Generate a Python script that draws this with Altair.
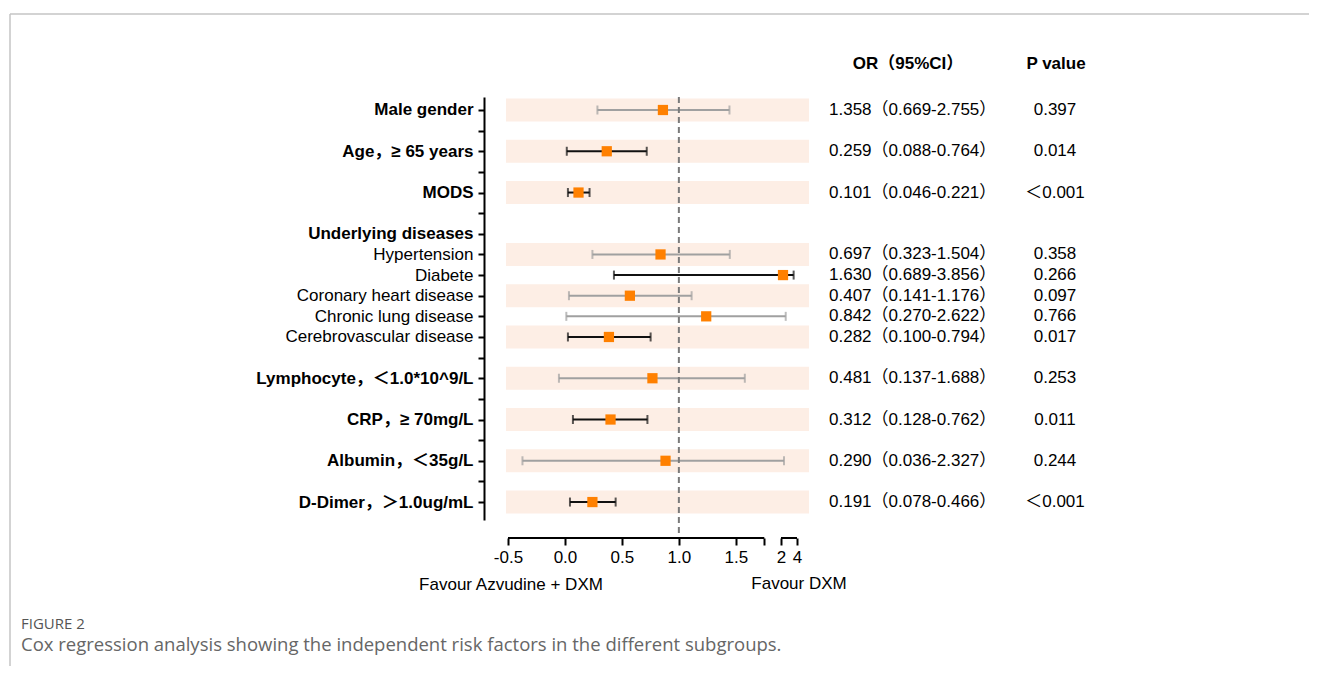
import json
import altair as alt
import pandas as pd

# ---------------- data ----------------
axis_labels = ["Male gender", "", "Age，≥ 65 years", "", "MODS", "", "Underlying diseases",
               "Hypertension", "Diabete", "Coronary heart disease", "Chronic lung disease",
               "Cerebrovascular disease", "", "Lymphocyte，＜1.0*10^9/L", "", "CRP，≥ 70mg/L", "",
               "Albumin，＜35g/L", "", "D-Dimer，＞1.0ug/mL"]

item_names = ["Male gender", "Age", "MODS", "Hypertension", "Diabete", "Coronary heart disease",
              "Chronic lung disease", "Cerebrovascular disease", "Lymphocyte", "CRP", "Albumin", "D-Dimer"]
item_rows = [0, 2, 4, 7, 8, 9, 10, 11, 13, 15, 17, 19]
est = [0.86, 0.367, 0.119, 0.839, 2.25, 0.57, 1.24, 0.386, 0.768, 0.40, 0.883, 0.241]
ci_lo = [0.285, 0.016, 0.026, 0.241, 0.43, 0.035, 0.012, 0.026, -0.053, 0.07, -0.373, 0.044]
ci_hi = [1.444, 0.718, 0.216, 1.447, 3.58, 1.112, 2.59, 0.752, 1.579, 0.724, 2.375, 0.445]
significant = [False, True, True, False, True, False, False, True, False, True, False, True]
or_text = ["1.358（0.669-2.755）", "0.259（0.088-0.764）", "0.101（0.046-0.221）",
           "0.697（0.323-1.504）", "1.630（0.689-3.856）", "0.407（0.141-1.176）",
           "0.842（0.270-2.622）", "0.282（0.100-0.794）", "0.481（0.137-1.688）",
           "0.312（0.128-0.762）", "0.290（0.036-2.327）", "0.191（0.078-0.466）"]
p_text = ["0.397", "0.014", "＜0.001", "0.358", "0.266", "0.097", "0.766", "0.017",
          "0.253", "0.011", "0.244", "＜0.001"]
band_rows = [0, 2, 4, 7, 9, 11, 13, 15, 17, 19]

x_tick_values = [-0.5, 0, 0.5, 1, 1.5, 1.75, 2, 4]
x_tick_labels = ["-0.5", "0.0", "0.5", "1.0", "1.5", "", "2", "4"]
axis_seg_lo = [-0.5, 2]
axis_seg_hi = [1.75, 4]
ref_value = [1]
headers = ["OR（95%CI）", "P value"]
favour = ["Favour Azvudine + DXM", "Favour DXM"]
fig_label = "FIGURE 2"
caption = "Cox regression analysis showing the independent risk factors in the different subgroups."

# ---------------- styles ----------------
W, H = 303, 423
FONT = "'Liberation Sans', Arial, 'Noto Sans CJK SC', sans-serif"
CAPFONT = "'Open Sans', 'Noto Sans', sans-serif"
FS = 17
ORANGE = "#FF8000"
BAND = "#FDEEE5"
GRAY_CI = "#a0a0a0"
BLACK_CI = "#111111"

df = pd.DataFrame({
    "name": item_names, "row": item_rows, "est": est, "lo": ci_lo, "hi": ci_hi,
    "color": [BLACK_CI if s else GRAY_CI for s in significant],
    "or": or_text, "p": p_text,
})
bands = pd.DataFrame({"row": band_rows})
bands["b0"] = bands["row"] - 0.56
bands["b1"] = bands["row"] + 0.56
segs = pd.DataFrame({"lo": axis_seg_lo, "hi": axis_seg_hi})
refdf = pd.DataFrame({"v": ref_value})
one = pd.DataFrame({"k": [0]})

x_scale = alt.Scale(domain=[-0.5, 1.75, 2, 4], range=[2, 258.3, 275, 291], nice=False, zero=False)
y_scale = alt.Scale(domain=[-0.63, 19.87], reverse=True, nice=False, zero=False)

y_axis = alt.Axis(
    values=list(range(len(axis_labels))),
    labelExpr=f"{json.dumps(axis_labels, ensure_ascii=False)}[round(datum.value)]",
    labelFontWeight={"condition": {"test": "datum.value <= 6 || datum.value >= 12", "value": "bold"},
                     "value": "normal"},
    labelFont=FONT, labelFontSize=FS, labelColor="#000", labelPadding=5, labelLimit=400,
    tickSize=6, tickWidth=2, tickColor="#000", domainColor="#000", domainWidth=2,
    offset=22, grid=False, title=None, labelOverlap=False, labelBound=False, labelFlush=False,
)
x_axis = alt.Axis(
    values=x_tick_values,
    labelExpr=f"{json.dumps(x_tick_labels)}[indexof({json.dumps(x_tick_values)}, datum.value)]",
    labelFont=FONT, labelFontSize=FS, labelColor="#000", labelPadding=4,
    tickSize=7, tickWidth=2, tickColor="#000", domain=False,
    offset=18, grid=False, title=None, labelOverlap=False, labelFlush=False, labelBound=False,
)

X = lambda f: alt.X(f, type="quantitative", scale=x_scale, axis=x_axis)
Y = lambda f: alt.Y(f, type="quantitative", scale=y_scale, axis=y_axis)

band_layer = alt.Chart(bands).mark_rect(color=BAND).encode(
    x=alt.value(0), x2=alt.value(W), y=Y("b0"), y2="b1")

ci_layer = alt.Chart(df).mark_rule(strokeWidth=2).encode(
    x=X("lo"), x2="hi", y=Y("row"), color=alt.Color("color:N", scale=None))

caps_layer = alt.Chart(df).transform_fold(["lo", "hi"], as_=["end", "val"]).mark_tick(
    orient="vertical", size=9, thickness=2).encode(
    x=X("val"), y=Y("row"), color=alt.Color("color:N", scale=None))

ref_layer = alt.Chart(refdf).mark_rule(color="#7a7a7a", strokeWidth=2, strokeDash=[6, 4]).encode(
    x=X("v"), y=alt.value(0), y2=alt.value(H + 18))

pt_layer = alt.Chart(df).mark_square(size=105, color=ORANGE, opacity=1).encode(
    x=X("est"), y=Y("row"))

axis_line_layer = alt.Chart(segs).mark_rule(color="#000", strokeWidth=2).encode(
    x=X("lo"), x2="hi", y=alt.value(H + 18))

or_layer = alt.Chart(df).mark_text(align="left", baseline="middle", font=FONT, fontSize=FS,
                                   color="#000").encode(
    x=alt.value(323), y=Y("row"), text="or:N")
p_layer = alt.Chart(df).mark_text(align="center", baseline="middle", font=FONT, fontSize=FS,
                                  color="#000").encode(
    x=alt.value(549), y=Y("row"), text="p:N")

hdr1 = alt.Chart(one).mark_text(align="center", baseline="middle", font=FONT, fontSize=FS,
                                fontWeight="bold", color="#000", text=headers[0]).encode(
    x=alt.value(402), y=alt.value(-33))
hdr2 = alt.Chart(one).mark_text(align="center", baseline="middle", font=FONT, fontSize=FS,
                                fontWeight="bold", color="#000", text=headers[1]).encode(
    x=alt.value(550), y=alt.value(-33))

fav1 = alt.Chart(one).mark_text(align="center", baseline="middle", font=FONT, fontSize=FS,
                                color="#000", text=favour[0]).encode(
    x=alt.value(5), y=alt.value(488))
fav2 = alt.Chart(one).mark_text(align="center", baseline="middle", font=FONT, fontSize=FS,
                                color="#000", text=favour[1]).encode(
    x=alt.value(293), y=alt.value(487))

figlab = alt.Chart(one).mark_text(align="left", baseline="middle", font=CAPFONT, fontSize=15,
                                  color="#555", text=fig_label).encode(
    x=alt.value(-485), y=alt.value(527))
cap = alt.Chart(one).mark_text(align="left", baseline="middle", font=CAPFONT, fontSize=18.5,
                               color="#666", text=caption).encode(
    x=alt.value(-485), y=alt.value(548))

frame_top = alt.Chart(one).mark_rule(color="#c4c4c4", strokeWidth=1.5).encode(
    x=alt.value(-496), x2=alt.value(816), y=alt.value(-83))
frame_left = alt.Chart(one).mark_rule(color="#c4c4c4", strokeWidth=1.5).encode(
    x=alt.value(-496), y=alt.value(-83), y2=alt.value(577))

chart = alt.layer(
    band_layer, ci_layer, caps_layer, ref_layer, pt_layer, axis_line_layer,
    or_layer, p_layer, hdr1, hdr2, fav1, fav2, figlab, cap, frame_top, frame_left,
).properties(
    width=W, height=H,
    padding={"left": 498, "top": 89, "right": 500, "bottom": 146},
    autosize=alt.AutoSizeParams(type="none"),
    background="white",
).configure_view(stroke=None)

chart.save("out.html", embed_options={"renderer": "svg", "actions": False})
